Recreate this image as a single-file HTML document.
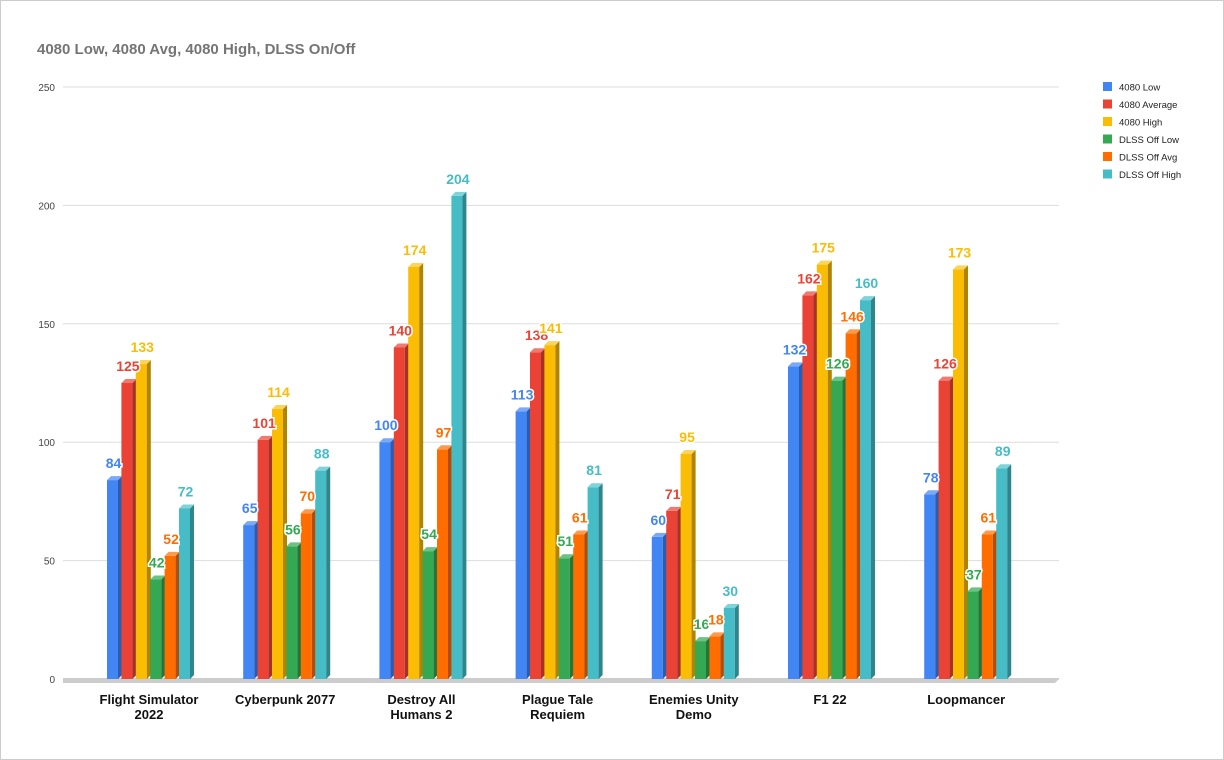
<!DOCTYPE html>
<html><head><meta charset="utf-8"><style>
body{margin:0;background:#fff;font-family:"Liberation Sans",Arial,sans-serif}
#wrap{position:relative;width:1224px;height:760px;overflow:hidden;border:1px solid #ccc;box-sizing:border-box}
</style></head><body>
<div id="wrap">
<svg id="chart" width="1224" height="760"></svg>
</div>
<script>
const categories=[["Flight Simulator","2022"],["Cyberpunk 2077"],["Destroy All","Humans 2"],["Plague Tale","Requiem"],["Enemies Unity","Demo"],["F1 22"],["Loopmancer"]];
const seriesNames=["4080 Low","4080 Average","4080 High","DLSS Off Low","DLSS Off Avg","DLSS Off High"];
const lowVals=[84,65,100,113,60,132,78];
const avgVals=[125,101,140,138,71,162,126];
const highVals=[133,114,174,141,95,175,173];
const offLowVals=[42,56,54,51,16,126,37];
const offAvgVals=[52,70,97,61,18,146,61];
const offHighVals=[72,88,204,81,30,160,89];
const yTicks=[0,50,100,150,200,250];
const colors=["#4285f4","#ea4335","#fbbc04","#34a853","#ff6d01","#46bdc6"];
const sides=["#2a5db0","#a83025","#b08400","#237538","#b54d00","#2e858c"];
const tops=["#7aa9f7","#f07a70","#fcd45a","#6cc284","#ff9a4d","#7fd3da"];
const series=[lowVals,avgVals,highVals,offLowVals,offAvgVals,offHighVals];
const NS="http://www.w3.org/2000/svg";
const svg=document.getElementById('chart');
const y0=678,y1=86,yMax=250;
function yScale(v){return y0-(v/yMax)*(y0-y1);}
function xCenter(i){return 148+i*136.2;}
function mk(t,a,txt){const e=document.createElementNS(NS,t);for(const k in a)e.setAttribute(k,a[k]);if(txt!==undefined)e.textContent=txt;svg.appendChild(e);return e;}
let t=mk('text',{x:36,y:53,'font-size':15,'font-weight':'bold',fill:'#757575'},'4080 Low, 4080 Avg, 4080 High, DLSS On/Off');


yTicks.forEach(v=>{
 const g=mk('line',{x1:62,x2:1058,y1:yScale(v),y2:yScale(v),stroke:v===0?'#999':'#ddd','stroke-width':1});
 
 
 const l=mk('text',{x:54,y:yScale(v)+4,'font-size':10,fill:'#444','text-anchor':'end'},v);
 
 
});
const floor=mk('polygon',{points:`62,${y0} 1058,${y0} 1054,${y0+4} 62,${y0+4}`,fill:'#ccc'});


const pitch=14.4,bw=11,d=4;
categories.forEach((c,i)=>{
 const cx=xCenter(i);
 const start=cx-42;
 series.forEach((s,j)=>{
  const v=s[i];const x=start+j*pitch;const yt=yScale(v);
  const f=mk('rect',{x:x,y:yt,width:bw,height:y0-yt,fill:colors[j]});
  
  
  const sd=mk('polygon',{points:`${x+bw},${yt} ${x+bw+d},${yt-d} ${x+bw+d},${y0-d} ${x+bw},${y0}`,fill:sides[j]});
  
  
  const tp=mk('polygon',{points:`${x},${yt} ${x+d},${yt-d} ${x+bw+d},${yt-d} ${x+bw},${yt}`,fill:tops[j]});
  
  
 });
 c.forEach((line,k)=>{
  const cl=mk('text',{x:cx,y:703+k*15,'font-size':13,'font-weight':'bold',fill:'#111','text-anchor':'middle'},line);
  
  
 });
});
categories.forEach((c,i)=>{
 const start=xCenter(i)-42;
 series.forEach((s,j)=>{
  const v=s[i];const x=start+j*pitch;const yt=yScale(v);
  const lb=mk('text',{x:x+bw/2+1,y:yt-12,'font-size':14,'font-weight':'bold',fill:colors[j],'text-anchor':'middle',stroke:'#fff','stroke-width':3,'paint-order':'stroke'},v);
  
  
 });
});
seriesNames.forEach((n,j)=>{
 const y=81+j*17.5;
 const r=mk('rect',{x:1102,y:y,width:9,height:9,fill:colors[j]});
 
 
 const tx=mk('text',{x:1118,y:y+8.5,'font-size':9.5,fill:'#222'},n);
 
 
});
</script>
</body></html>
